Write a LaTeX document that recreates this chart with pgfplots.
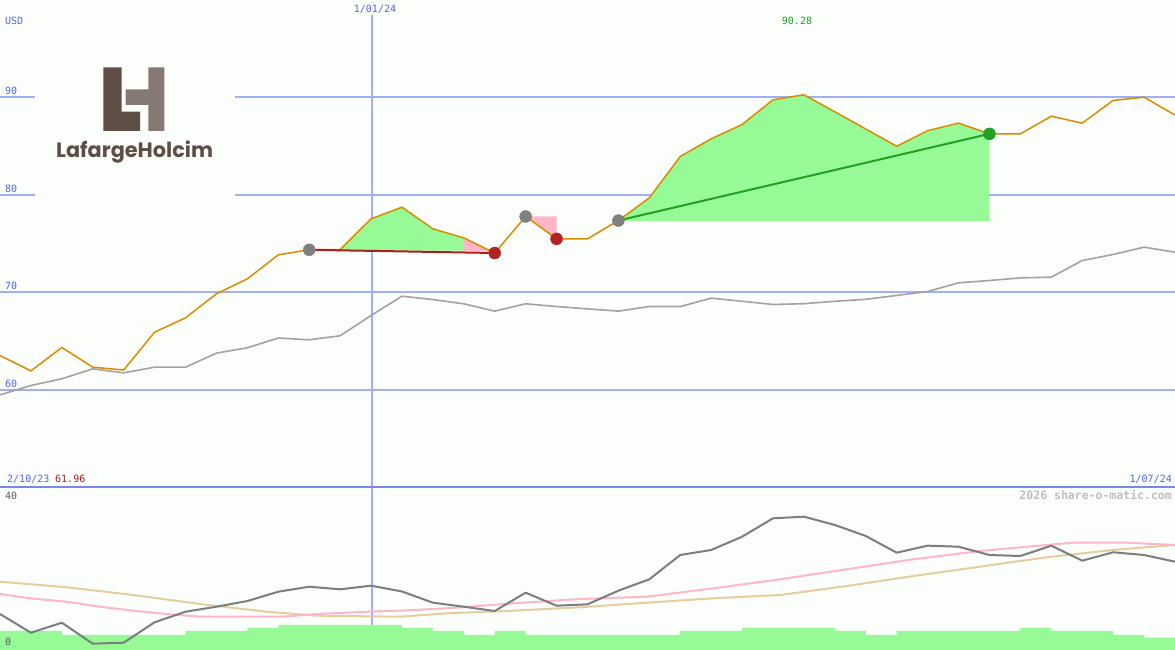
\documentclass[border=0pt]{standalone}
\usepackage{pgfplots}
\usepackage{pgfplotstable}
\pgfplotsset{compat=1.18}
\usepackage{fontspec}
\newfontfamily\mono{DejaVu Sans Mono}
\newfontfamily\logofont{Poppins}
\newcommand\lbl{\mono\fontsize{10}{12}\selectfont}
\definecolor{bg}{RGB}{252,254,252}
\definecolor{gridblue}{RGB}{160,176,240}
\definecolor{sepblue}{RGB}{120,136,232}
\definecolor{txtblue}{RGB}{80,100,240}
\definecolor{orangeline}{RGB}{218,140,0}
\definecolor{fillgreen}{RGB}{150,250,150}
\definecolor{fillpink}{RGB}{255,182,200}
\definecolor{maline}{RGB}{162,162,162}
\definecolor{darkred}{RGB}{170,30,30}
\definecolor{dotred}{RGB}{178,34,34}
\definecolor{trendgreen}{RGB}{34,160,34}
\definecolor{dotgray}{RGB}{128,128,128}
\definecolor{lowgray}{RGB}{125,125,125}
\definecolor{lowpink}{RGB}{255,182,200}
\definecolor{lowtan}{RGB}{230,205,160}
\definecolor{logodark}{RGB}{94,78,70}
\definecolor{logolight}{RGB}{134,121,115}
\definecolor{wm}{RGB}{190,190,190}
\definecolor{lbldark}{RGB}{90,90,90}

\pgfplotstableread{
i p m
0 63.54 59.50
1 61.96 60.46
2 64.36 61.15
3 62.34 62.17
4 62.05 61.76
5 65.93 62.34
6 67.40 62.34
7 69.87 63.78
8 71.40 64.33
9 73.86 65.33
10 74.38 65.15
11 74.40 65.56
12 77.56 67.64
13 78.75 69.62
14 76.53 69.28
15 75.60 68.84
16 74.05 68.09
17 77.80 68.84
18 75.50 68.56
19 75.50 68.32
20 77.38 68.09
21 79.71 68.56
22 83.95 68.56
23 85.76 69.42
24 87.23 69.10
25 89.76 68.77
26 90.28 68.85
27 88.53 69.10
28 86.77 69.30
29 85.00 69.70
30 86.60 70.10
31 87.37 70.99
32 86.27 71.23
33 86.27 71.50
34 88.08 71.57
35 87.37 73.28
36 89.70 73.90
37 90.03 74.65
38 88.20 74.13
}\price

\pgfplotstableread{
i g
0 9.86
1 4.74
2 7.48
3 1.73
4 2.00
5 7.59
6 10.49
7 11.86
8 13.42
9 15.97
10 17.34
11 16.63
12 17.62
13 16.03
14 12.96
15 11.86
16 10.68
17 15.70
18 12.14
19 12.52
20 16.25
21 19.37
22 26.03
23 27.40
24 31.04
25 36.08
26 36.52
27 34.25
28 31.23
29 26.66
30 28.58
31 28.30
32 26.03
33 25.75
34 28.58
35 24.47
36 26.77
37 26.03
38 24.19
}\lowgray

\pgfplotstableread{
x v
0 15.34
0.97 14.16
2.16 13.23
3.23 11.86
4.31 10.77
5.39 9.86
6.47 9.12
9.15 9.12
10.24 9.86
11.86 10.49
12.94 10.77
14.45 11.42
16.60 12.79
18.76 13.97
20.92 14.60
23.07 16.90
25.23 19.37
27.38 22.11
29.54 24.85
31.69 27.12
33.85 28.77
34.71 29.40
36.44 29.40
38.00 28.77
}\lowpinkt

\pgfplotstableread{
x v
0 18.71
2.16 17.18
4.31 15.07
6.47 12.60
8.63 10.49
10.24 9.40
12.94 9.12
14.45 10.05
16.60 10.77
18.76 11.70
20.92 12.96
23.07 14.16
25.23 15.07
27.38 17.53
29.54 20.27
31.69 22.82
33.85 25.40
36.01 27.40
38.00 28.77
}\lowtant

\pgfplotstableread{
k v
0 5.21
1 5.21
2 4.11
3 4.11
4 4.11
5 4.11
6 5.21
7 5.21
8 6.03
9 6.85
10 6.85
11 6.85
12 6.85
13 6.03
14 5.21
15 4.11
16 5.21
17 4.11
18 4.11
19 4.11
20 4.11
21 4.11
22 5.21
23 5.21
24 6.03
25 6.03
26 6.03
27 5.21
28 4.11
29 5.21
30 5.21
31 5.21
32 5.21
33 6.03
34 5.21
35 5.21
36 4.11
37 3.37
38 3.37
}\bars

\begin{document}
\begin{tikzpicture}
\fill[bg] (0,0) rectangle (1175pt,650pt);

% ---------- upper panel ----------
\begin{axis}[at={(0pt,162.5pt)}, anchor=south west, scale only axis,
  width=1175pt, height=487.5pt, xmin=0, xmax=38, ymin=50, ymax=100,
  hide axis, clip=false]
\draw[gridblue, line width=2pt] (axis cs:0,90) -- (axis cs:38,90);
\draw[gridblue, line width=2pt] (axis cs:0,80) -- (axis cs:38,80);
\draw[gridblue, line width=2pt] (axis cs:0,70) -- (axis cs:38,70);
\draw[gridblue, line width=2pt] (axis cs:0,60) -- (axis cs:38,60);
\draw[gridblue, line width=1.3pt] (axis cs:12.03,98.5) -- (axis cs:12.03,50);
% shaded zones
\addplot[fill=fillgreen, draw=none] coordinates {(11,74.30)(11,74.40)(12,77.56)(13,78.75)(14,76.53)(15,75.60)(15,74.30)} -- cycle;
\addplot[fill=fillpink, draw=none] coordinates {(15,75.60)(15.865,74.26)(15,74.26)} -- cycle;
\addplot[fill=fillpink, draw=none] coordinates {(17,77.80)(18,75.50)(18,77.80)} -- cycle;
\addplot[fill=fillgreen, draw=none] coordinates {(20,77.38)(21,79.71)(22,83.95)(23,85.76)(24,87.23)(25,89.76)(26,90.28)(27,88.53)(28,86.77)(29,85.00)(30,86.60)(31,87.37)(32,86.27)(32,77.35)(20,77.35)} -- cycle;
% lines
\addplot[maline, line width=1.6pt] table[x=i, y=m] {\price};
\addplot[orangeline, line width=1.5pt] table[x=i, y=p] {\price};
\addplot[darkred, line width=2pt] coordinates {(10,74.38)(16,74.05)};
\addplot[trendgreen, line width=2pt] coordinates {(20,77.38)(32,86.27)};
\addplot[only marks, mark=*, mark size=6pt, color=dotgray] coordinates {(10,74.38)(17,77.80)(20,77.38)};
\addplot[only marks, mark=*, mark size=6pt, color=dotred] coordinates {(16,74.05)(18,75.50)};
\addplot[only marks, mark=*, mark size=6pt, color=trendgreen] coordinates {(32,86.27)};
\end{axis}

% ---------- lower panel ----------
\begin{axis}[at={(0pt,0pt)}, anchor=south west, scale only axis,
  width=1175pt, height=162.5pt, xmin=0, xmax=38, ymin=0, ymax=44.52,
  hide axis, clip=false]
\draw[gridblue, line width=1.3pt] (axis cs:12.03,44.52) -- (axis cs:12.03,0);
\addplot[const plot, fill=fillgreen, draw=none] table[x=k, y=v] {\bars} \closedcycle;
\addplot[lowtan, line width=2pt] table[x=x, y=v] {\lowtant};
\addplot[lowpink, line width=2pt] table[x=x, y=v] {\lowpinkt};
\addplot[lowgray, line width=2pt] table[x=i, y=g] {\lowgray};
\end{axis}

\draw[sepblue, line width=2pt] (0,163pt) -- (1175pt,163pt);

% ---------- texts and logo (image pixel coordinates) ----------
\begin{scope}[x=1pt, y=-1pt, yshift=650pt]
% logo background breaks the grid lines
\fill[bg] (35,55) rectangle (235,205);
\fill[logodark] (103.3,67.3) -- (121.7,67.3) -- (121.7,111.7) -- (140,111.7) -- (140,131) -- (103.3,131) -- cycle;
\fill[logolight] (125.7,89.3) -- (148.3,89.3) -- (148.3,67.3) -- (164.3,67.3) -- (164.3,131) -- (148.3,131) -- (148.3,105) -- (125.7,105) -- cycle;
\node[anchor=base west, inner sep=0, text=logodark, font=\logofont\bfseries\fontsize{20.8}{22}\selectfont] at (56,157.3) {LafargeHolcim};

\node[anchor=base west, inner sep=0, text=txtblue, font=\lbl] at (5,25) {USD};
\node[anchor=base west, inner sep=0, text=txtblue, font=\lbl] at (5,95) {90};
\node[anchor=base west, inner sep=0, text=txtblue, font=\lbl] at (5,193) {80};
\node[anchor=base west, inner sep=0, text=txtblue, font=\lbl] at (5,290) {70};
\node[anchor=base west, inner sep=0, text=txtblue, font=\lbl] at (5,388) {60};
\node[anchor=base, inner sep=0, text=txtblue, font=\lbl] at (375,12.7) {1/01/24};
\node[anchor=base, inner sep=0, text=trendgreen, font=\lbl] at (797,25) {90.28};
\node[anchor=base west, inner sep=0, text=txtblue, font=\lbl] at (7,483) {2/10/23};
\node[anchor=base west, inner sep=0, text=darkred, font=\lbl] at (55,483) {61.96};
\node[anchor=base east, inner sep=0, text=txtblue, font=\lbl] at (1172,483) {1/07/24};
\node[anchor=base west, inner sep=0, text=lbldark, font=\lbl] at (5,499.5) {40};
\node[anchor=base west, inner sep=0, text=lbldark, font=\lbl] at (5,645.7) {0};
\node[anchor=base east, inner sep=0, text=wm, font=\mono\bfseries\fontsize{11.5}{13}\selectfont] at (1172,500) {2026 share-o-matic.com};
\end{scope}

\pgfresetboundingbox
\useasboundingbox (0,0) rectangle (1175pt,650pt);
\end{tikzpicture}
\end{document}
